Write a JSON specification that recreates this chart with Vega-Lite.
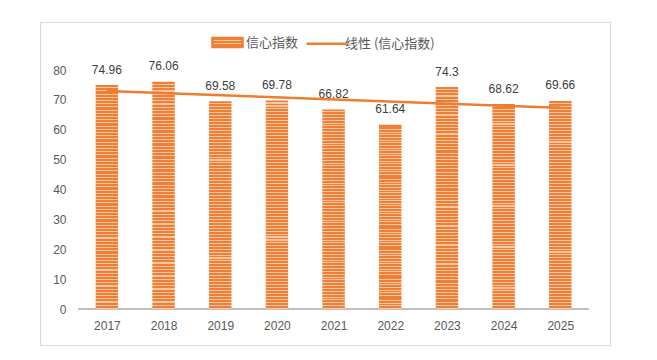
{
  "$schema": "https://vega.github.io/schema/vega-lite/v6.json",
  "width": 570,
  "height": 323,
  "autosize": {"type": "none"},
  "padding": {"left": 40, "top": 22, "right": 47, "bottom": 15},
  "background": "white",
  "config": {
    "view": {"stroke": "#d9d9d9", "strokeWidth": 1},
    "font": "Liberation Sans"
  },
  "data": {
    "values": [
      {"year": 2017, "index": 74.96},
      {"year": 2018, "index": 76.06},
      {"year": 2019, "index": 69.58},
      {"year": 2020, "index": 69.78},
      {"year": 2021, "index": 66.82},
      {"year": 2022, "index": 61.64},
      {"year": 2023, "index": 74.3},
      {"year": 2024, "index": 68.62},
      {"year": 2025, "index": 69.66}
    ]
  },
  "layer": [
    {
      "mark": {"type": "rule", "color": "#bfbfbf", "strokeWidth": 2},
      "encoding": {
        "x": {"datum": 2016.5, "type": "quantitative"},
        "x2": {"datum": 2025.5},
        "y": {"datum": 0, "type": "quantitative"}
      }
    },
    {
      "mark": {
        "type": "bar",
        "width": 22.5,
        "fill": {
          "gradient": "linear", "x1": 0, "y1": 0, "x2": 0, "y2": 1,
          "stops": [
            {"offset":0,"color":"#F07F35"},{"offset":0.0093,"color":"#F07F35"},{"offset":0.0093,"color":"#F9C7A2"},{"offset":0.0143,"color":"#F9C7A2"},
            {"offset":0.0143,"color":"#F07F35"},{"offset":0.0236,"color":"#F07F35"},{"offset":0.0236,"color":"#F9C7A2"},{"offset":0.0286,"color":"#F9C7A2"},
            {"offset":0.0286,"color":"#F07F35"},{"offset":0.0379,"color":"#F07F35"},{"offset":0.0379,"color":"#F9C7A2"},{"offset":0.0429,"color":"#F9C7A2"},
            {"offset":0.0429,"color":"#F07F35"},{"offset":0.0522,"color":"#F07F35"},{"offset":0.0522,"color":"#F9C7A2"},{"offset":0.0571,"color":"#F9C7A2"},
            {"offset":0.0571,"color":"#F07F35"},{"offset":0.0664,"color":"#F07F35"},{"offset":0.0664,"color":"#F9C7A2"},{"offset":0.0714,"color":"#F9C7A2"},
            {"offset":0.0714,"color":"#F07F35"},{"offset":0.0807,"color":"#F07F35"},{"offset":0.0807,"color":"#F9C7A2"},{"offset":0.0857,"color":"#F9C7A2"},
            {"offset":0.0857,"color":"#F07F35"},{"offset":0.095,"color":"#F07F35"},{"offset":0.095,"color":"#F9C7A2"},{"offset":0.1,"color":"#F9C7A2"},
            {"offset":0.1,"color":"#F07F35"},{"offset":0.1093,"color":"#F07F35"},{"offset":0.1093,"color":"#F9C7A2"},{"offset":0.1143,"color":"#F9C7A2"},
            {"offset":0.1143,"color":"#F07F35"},{"offset":0.1236,"color":"#F07F35"},{"offset":0.1236,"color":"#F9C7A2"},{"offset":0.1286,"color":"#F9C7A2"},
            {"offset":0.1286,"color":"#F07F35"},{"offset":0.1379,"color":"#F07F35"},{"offset":0.1379,"color":"#F9C7A2"},{"offset":0.1429,"color":"#F9C7A2"},
            {"offset":0.1429,"color":"#F07F35"},{"offset":0.1522,"color":"#F07F35"},{"offset":0.1522,"color":"#F9C7A2"},{"offset":0.1571,"color":"#F9C7A2"},
            {"offset":0.1571,"color":"#F07F35"},{"offset":0.1664,"color":"#F07F35"},{"offset":0.1664,"color":"#F9C7A2"},{"offset":0.1714,"color":"#F9C7A2"},
            {"offset":0.1714,"color":"#F07F35"},{"offset":0.1807,"color":"#F07F35"},{"offset":0.1807,"color":"#F9C7A2"},{"offset":0.1857,"color":"#F9C7A2"},
            {"offset":0.1857,"color":"#F07F35"},{"offset":0.195,"color":"#F07F35"},{"offset":0.195,"color":"#F9C7A2"},{"offset":0.2,"color":"#F9C7A2"},
            {"offset":0.2,"color":"#F07F35"},{"offset":0.2093,"color":"#F07F35"},{"offset":0.2093,"color":"#F9C7A2"},{"offset":0.2143,"color":"#F9C7A2"},
            {"offset":0.2143,"color":"#F07F35"},{"offset":0.2236,"color":"#F07F35"},{"offset":0.2236,"color":"#F9C7A2"},{"offset":0.2286,"color":"#F9C7A2"},
            {"offset":0.2286,"color":"#F07F35"},{"offset":0.2379,"color":"#F07F35"},{"offset":0.2379,"color":"#F9C7A2"},{"offset":0.2429,"color":"#F9C7A2"},
            {"offset":0.2429,"color":"#F07F35"},{"offset":0.2522,"color":"#F07F35"},{"offset":0.2522,"color":"#F9C7A2"},{"offset":0.2571,"color":"#F9C7A2"},
            {"offset":0.2571,"color":"#F07F35"},{"offset":0.2664,"color":"#F07F35"},{"offset":0.2664,"color":"#F9C7A2"},{"offset":0.2714,"color":"#F9C7A2"},
            {"offset":0.2714,"color":"#F07F35"},{"offset":0.2807,"color":"#F07F35"},{"offset":0.2807,"color":"#F9C7A2"},{"offset":0.2857,"color":"#F9C7A2"},
            {"offset":0.2857,"color":"#F07F35"},{"offset":0.295,"color":"#F07F35"},{"offset":0.295,"color":"#F9C7A2"},{"offset":0.3,"color":"#F9C7A2"},
            {"offset":0.3,"color":"#F07F35"},{"offset":0.3093,"color":"#F07F35"},{"offset":0.3093,"color":"#F9C7A2"},{"offset":0.3143,"color":"#F9C7A2"},
            {"offset":0.3143,"color":"#F07F35"},{"offset":0.3236,"color":"#F07F35"},{"offset":0.3236,"color":"#F9C7A2"},{"offset":0.3286,"color":"#F9C7A2"},
            {"offset":0.3286,"color":"#F07F35"},{"offset":0.3379,"color":"#F07F35"},{"offset":0.3379,"color":"#F9C7A2"},{"offset":0.3429,"color":"#F9C7A2"},
            {"offset":0.3429,"color":"#F07F35"},{"offset":0.3522,"color":"#F07F35"},{"offset":0.3522,"color":"#F9C7A2"},{"offset":0.3571,"color":"#F9C7A2"},
            {"offset":0.3571,"color":"#F07F35"},{"offset":0.3664,"color":"#F07F35"},{"offset":0.3664,"color":"#F9C7A2"},{"offset":0.3714,"color":"#F9C7A2"},
            {"offset":0.3714,"color":"#F07F35"},{"offset":0.3807,"color":"#F07F35"},{"offset":0.3807,"color":"#F9C7A2"},{"offset":0.3857,"color":"#F9C7A2"},
            {"offset":0.3857,"color":"#F07F35"},{"offset":0.395,"color":"#F07F35"},{"offset":0.395,"color":"#F9C7A2"},{"offset":0.4,"color":"#F9C7A2"},
            {"offset":0.4,"color":"#F07F35"},{"offset":0.4093,"color":"#F07F35"},{"offset":0.4093,"color":"#F9C7A2"},{"offset":0.4143,"color":"#F9C7A2"},
            {"offset":0.4143,"color":"#F07F35"},{"offset":0.4236,"color":"#F07F35"},{"offset":0.4236,"color":"#F9C7A2"},{"offset":0.4286,"color":"#F9C7A2"},
            {"offset":0.4286,"color":"#F07F35"},{"offset":0.4379,"color":"#F07F35"},{"offset":0.4379,"color":"#F9C7A2"},{"offset":0.4429,"color":"#F9C7A2"},
            {"offset":0.4429,"color":"#F07F35"},{"offset":0.4522,"color":"#F07F35"},{"offset":0.4522,"color":"#F9C7A2"},{"offset":0.4571,"color":"#F9C7A2"},
            {"offset":0.4571,"color":"#F07F35"},{"offset":0.4664,"color":"#F07F35"},{"offset":0.4664,"color":"#F9C7A2"},{"offset":0.4714,"color":"#F9C7A2"},
            {"offset":0.4714,"color":"#F07F35"},{"offset":0.4807,"color":"#F07F35"},{"offset":0.4807,"color":"#F9C7A2"},{"offset":0.4857,"color":"#F9C7A2"},
            {"offset":0.4857,"color":"#F07F35"},{"offset":0.495,"color":"#F07F35"},{"offset":0.495,"color":"#F9C7A2"},{"offset":0.5,"color":"#F9C7A2"},
            {"offset":0.5,"color":"#F07F35"},{"offset":0.5093,"color":"#F07F35"},{"offset":0.5093,"color":"#F9C7A2"},{"offset":0.5143,"color":"#F9C7A2"},
            {"offset":0.5143,"color":"#F07F35"},{"offset":0.5236,"color":"#F07F35"},{"offset":0.5236,"color":"#F9C7A2"},{"offset":0.5286,"color":"#F9C7A2"},
            {"offset":0.5286,"color":"#F07F35"},{"offset":0.5379,"color":"#F07F35"},{"offset":0.5379,"color":"#F9C7A2"},{"offset":0.5429,"color":"#F9C7A2"},
            {"offset":0.5429,"color":"#F07F35"},{"offset":0.5522,"color":"#F07F35"},{"offset":0.5522,"color":"#F9C7A2"},{"offset":0.5571,"color":"#F9C7A2"},
            {"offset":0.5571,"color":"#F07F35"},{"offset":0.5664,"color":"#F07F35"},{"offset":0.5664,"color":"#F9C7A2"},{"offset":0.5714,"color":"#F9C7A2"},
            {"offset":0.5714,"color":"#F07F35"},{"offset":0.5807,"color":"#F07F35"},{"offset":0.5807,"color":"#F9C7A2"},{"offset":0.5857,"color":"#F9C7A2"},
            {"offset":0.5857,"color":"#F07F35"},{"offset":0.595,"color":"#F07F35"},{"offset":0.595,"color":"#F9C7A2"},{"offset":0.6,"color":"#F9C7A2"},
            {"offset":0.6,"color":"#F07F35"},{"offset":0.6093,"color":"#F07F35"},{"offset":0.6093,"color":"#F9C7A2"},{"offset":0.6143,"color":"#F9C7A2"},
            {"offset":0.6143,"color":"#F07F35"},{"offset":0.6236,"color":"#F07F35"},{"offset":0.6236,"color":"#F9C7A2"},{"offset":0.6286,"color":"#F9C7A2"},
            {"offset":0.6286,"color":"#F07F35"},{"offset":0.6379,"color":"#F07F35"},{"offset":0.6379,"color":"#F9C7A2"},{"offset":0.6429,"color":"#F9C7A2"},
            {"offset":0.6429,"color":"#F07F35"},{"offset":0.6522,"color":"#F07F35"},{"offset":0.6522,"color":"#F9C7A2"},{"offset":0.6571,"color":"#F9C7A2"},
            {"offset":0.6571,"color":"#F07F35"},{"offset":0.6664,"color":"#F07F35"},{"offset":0.6664,"color":"#F9C7A2"},{"offset":0.6714,"color":"#F9C7A2"},
            {"offset":0.6714,"color":"#F07F35"},{"offset":0.6807,"color":"#F07F35"},{"offset":0.6807,"color":"#F9C7A2"},{"offset":0.6857,"color":"#F9C7A2"},
            {"offset":0.6857,"color":"#F07F35"},{"offset":0.695,"color":"#F07F35"},{"offset":0.695,"color":"#F9C7A2"},{"offset":0.7,"color":"#F9C7A2"},
            {"offset":0.7,"color":"#F07F35"},{"offset":0.7093,"color":"#F07F35"},{"offset":0.7093,"color":"#F9C7A2"},{"offset":0.7143,"color":"#F9C7A2"},
            {"offset":0.7143,"color":"#F07F35"},{"offset":0.7236,"color":"#F07F35"},{"offset":0.7236,"color":"#F9C7A2"},{"offset":0.7286,"color":"#F9C7A2"},
            {"offset":0.7286,"color":"#F07F35"},{"offset":0.7379,"color":"#F07F35"},{"offset":0.7379,"color":"#F9C7A2"},{"offset":0.7429,"color":"#F9C7A2"},
            {"offset":0.7429,"color":"#F07F35"},{"offset":0.7522,"color":"#F07F35"},{"offset":0.7522,"color":"#F9C7A2"},{"offset":0.7571,"color":"#F9C7A2"},
            {"offset":0.7571,"color":"#F07F35"},{"offset":0.7664,"color":"#F07F35"},{"offset":0.7664,"color":"#F9C7A2"},{"offset":0.7714,"color":"#F9C7A2"},
            {"offset":0.7714,"color":"#F07F35"},{"offset":0.7807,"color":"#F07F35"},{"offset":0.7807,"color":"#F9C7A2"},{"offset":0.7857,"color":"#F9C7A2"},
            {"offset":0.7857,"color":"#F07F35"},{"offset":0.795,"color":"#F07F35"},{"offset":0.795,"color":"#F9C7A2"},{"offset":0.8,"color":"#F9C7A2"},
            {"offset":0.8,"color":"#F07F35"},{"offset":0.8093,"color":"#F07F35"},{"offset":0.8093,"color":"#F9C7A2"},{"offset":0.8143,"color":"#F9C7A2"},
            {"offset":0.8143,"color":"#F07F35"},{"offset":0.8236,"color":"#F07F35"},{"offset":0.8236,"color":"#F9C7A2"},{"offset":0.8286,"color":"#F9C7A2"},
            {"offset":0.8286,"color":"#F07F35"},{"offset":0.8379,"color":"#F07F35"},{"offset":0.8379,"color":"#F9C7A2"},{"offset":0.8429,"color":"#F9C7A2"},
            {"offset":0.8429,"color":"#F07F35"},{"offset":0.8522,"color":"#F07F35"},{"offset":0.8522,"color":"#F9C7A2"},{"offset":0.8571,"color":"#F9C7A2"},
            {"offset":0.8571,"color":"#F07F35"},{"offset":0.8664,"color":"#F07F35"},{"offset":0.8664,"color":"#F9C7A2"},{"offset":0.8714,"color":"#F9C7A2"},
            {"offset":0.8714,"color":"#F07F35"},{"offset":0.8807,"color":"#F07F35"},{"offset":0.8807,"color":"#F9C7A2"},{"offset":0.8857,"color":"#F9C7A2"},
            {"offset":0.8857,"color":"#F07F35"},{"offset":0.895,"color":"#F07F35"},{"offset":0.895,"color":"#F9C7A2"},{"offset":0.9,"color":"#F9C7A2"},
            {"offset":0.9,"color":"#F07F35"},{"offset":0.9093,"color":"#F07F35"},{"offset":0.9093,"color":"#F9C7A2"},{"offset":0.9143,"color":"#F9C7A2"},
            {"offset":0.9143,"color":"#F07F35"},{"offset":0.9236,"color":"#F07F35"},{"offset":0.9236,"color":"#F9C7A2"},{"offset":0.9286,"color":"#F9C7A2"},
            {"offset":0.9286,"color":"#F07F35"},{"offset":0.9379,"color":"#F07F35"},{"offset":0.9379,"color":"#F9C7A2"},{"offset":0.9429,"color":"#F9C7A2"},
            {"offset":0.9429,"color":"#F07F35"},{"offset":0.9522,"color":"#F07F35"},{"offset":0.9522,"color":"#F9C7A2"},{"offset":0.9571,"color":"#F9C7A2"},
            {"offset":0.9571,"color":"#F07F35"},{"offset":0.9664,"color":"#F07F35"},{"offset":0.9664,"color":"#F9C7A2"},{"offset":0.9714,"color":"#F9C7A2"},
            {"offset":0.9714,"color":"#F07F35"},{"offset":0.9807,"color":"#F07F35"},{"offset":0.9807,"color":"#F9C7A2"},{"offset":0.9857,"color":"#F9C7A2"},
            {"offset":0.9857,"color":"#F07F35"},{"offset":0.995,"color":"#F07F35"},{"offset":0.995,"color":"#F9C7A2"},{"offset":1,"color":"#F9C7A2"}
          ]
        }
      },
      "encoding": {
        "x": {
          "field": "year",
          "type": "quantitative",
          "scale": {"domain": [2015.908, 2025.789], "nice": false, "zero": false},
          "axis": {
            "title": null,
            "values": [2017, 2018, 2019, 2020, 2021, 2022, 2023, 2024, 2025],
            "format": "d",
            "domain": false,
            "ticks": false,
            "grid": false,
            "offset": -36,
            "labelPadding": 11,
            "labelFontSize": 12,
            "labelColor": "#595959",
            "labelFont": "Liberation Sans"
          }
        },
        "y": {
          "field": "index",
          "type": "quantitative",
          "scale": {"domain": [-12.05, 96.07], "nice": false, "zero": false},
          "axis": {
            "title": null,
            "values": [0, 10, 20, 30, 40, 50, 60, 70, 80],
            "domain": false,
            "ticks": false,
            "grid": false,
            "offset": -28,
            "labelPadding": 2,
            "labelFontSize": 12,
            "labelColor": "#595959",
            "labelFont": "Liberation Sans"
          }
        }
      }
    },
    {
      "mark": {"type": "text", "baseline": "alphabetic", "dy": -11.5, "fontSize": 12, "color": "#404040", "font": "Liberation Sans"},
      "encoding": {
        "x": {"field": "year", "type": "quantitative"},
        "y": {"field": "index", "type": "quantitative"},
        "text": {"field": "index", "type": "quantitative", "format": ".4~"}
      }
    },
    {
      "transform": [{"regression": "index", "on": "year"}],
      "mark": {"type": "line", "strokeWidth": 2.5},
      "encoding": {
        "x": {"field": "year", "type": "quantitative"},
        "y": {"field": "index", "type": "quantitative"},
        "color": {
          "datum": "线性 (信心指数)",
          "scale": {"domain": ["信心指数", "线性 (信心指数)"], "range": ["#F07F35", "#ED7D31"]},
          "legend": {
            "orient": "none",
            "legendX": 166,
            "legendY": -1,
            "direction": "horizontal",
            "title": null,
            "labelFont": "Noto Sans CJK SC",
            "labelFontSize": 13,
            "labelColor": "#595959",
            "labelOffset": -3,
            "columnPadding": 2,
            "symbolSize": 1600,
            "encode": {
              "symbols": {
                "update": {
                  "shape": {"signal": "datum.value === '信心指数' ? 'M-0.75,-0.225H0.75V0.225H-0.75Z' : 'M-1,0H1'"},
                  "size": {"value": 1600},
                  "fill": {"signal": "datum.value === '信心指数' ? {gradient: 'linear', x1: 0, y1: 0, x2: 0, y2: 1, stops: [{offset: 0, color: '#F07F35'}, {offset: 0.222, color: '#F07F35'}, {offset: 0.222, color: '#F9C7A2'}, {offset: 0.333, color: '#F9C7A2'}, {offset: 0.333, color: '#F07F35'}, {offset: 0.556, color: '#F07F35'}, {offset: 0.556, color: '#F9C7A2'}, {offset: 0.667, color: '#F9C7A2'}, {offset: 0.667, color: '#F07F35'}, {offset: 0.889, color: '#F07F35'}, {offset: 0.889, color: '#F9C7A2'}, {offset: 1, color: '#F9C7A2'}]} : 'transparent'"},
                  "stroke": {"signal": "datum.value === '信心指数' ? 'transparent' : '#ED7D31'"},
                  "strokeWidth": {"value": 2.5},
                  "opacity": {"value": 1},
                  "fillOpacity": {"value": 1},
                  "strokeOpacity": {"value": 1}
                }
              }
            }
          }
        }
      }
    }
  ]
}
